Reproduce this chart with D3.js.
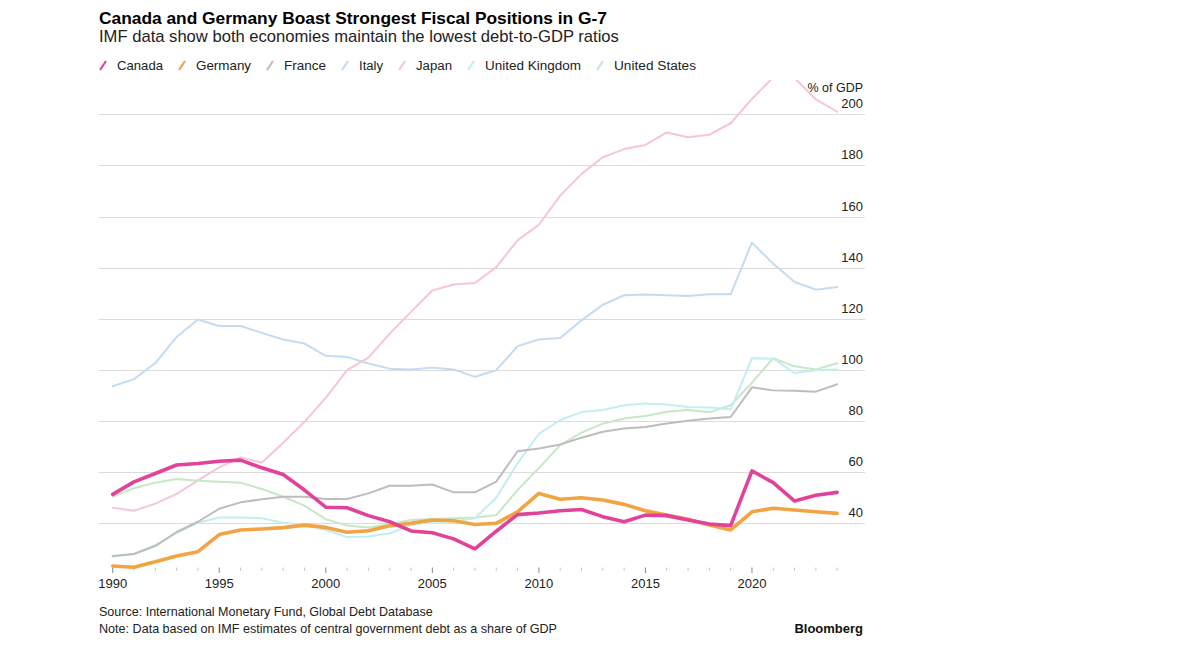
<!DOCTYPE html>
<html>
<head>
<meta charset="utf-8">
<script src="https://cdn.jsdelivr.net/npm/d3@7"></script>
<style>
  html, body { margin: 0; padding: 0; background: #fff; }
  svg { display: block; font-family: "Liberation Sans", Arial, Helvetica, sans-serif; }
</style>
</head>
<body>
<svg id="chart" width="1178" height="649"></svg>
<script>
// ---------- DATA ----------
const years = d3.range(1990, 2025);
const canada  = [51.3,56.2,59.5,62.8,63.4,64.3,64.7,61.7,59.1,53.0,46.3,46.1,43.0,40.6,37.0,36.3,33.9,30.0,36.9,43.4,44.0,44.9,45.4,42.6,40.6,43.2,43.0,41.3,39.7,39.1,60.5,55.9,48.7,51.0,52.1];
const germany = [23.3,22.8,25.0,27.2,28.9,35.6,37.4,37.8,38.3,39.3,38.4,36.5,37.1,39.0,40.0,41.3,41.0,39.5,40.0,44.5,51.7,49.4,50.0,49.1,47.4,44.9,43.2,41.6,39.3,37.4,44.5,45.9,45.2,44.5,43.9];
const france  = [27.2,28.0,31.1,36.6,40.6,45.7,48.2,49.4,50.4,50.4,49.5,49.5,51.7,54.7,54.7,55.2,52.1,52.1,56.3,68.2,69.3,70.8,73.5,75.8,77.1,77.7,79.0,80.1,81.0,81.6,93.2,92.0,91.9,91.5,94.4];
const italy   = [93.6,96.4,102.7,112.9,119.7,117.2,117.2,114.5,111.9,110.3,105.5,105.1,102.5,100.5,100.2,100.9,100.2,97.3,99.9,109.3,111.9,112.5,119.4,125.5,129.2,129.5,129.2,128.9,129.6,129.6,149.8,141.5,134.4,131.4,132.4];
const japan   = [46.1,44.9,47.7,51.5,56.8,61.9,65.8,63.7,71.5,79.7,89.1,99.9,104.8,114.2,122.7,131.1,133.4,134.0,140.2,150.7,156.8,168.2,176.7,183.2,186.4,188.0,192.9,191.0,192.0,196.5,206.0,214.5,214.2,205.8,201.0];
const uk      = [27.0,28.0,31.5,36.2,40.2,42.3,42.3,42.0,40.2,39.3,37.4,34.6,34.8,36.1,39.3,40.6,40.8,42.0,50.0,63.5,75.0,80.4,83.5,84.3,86.2,86.9,86.5,85.5,85.3,84.6,104.6,104.4,98.8,99.9,100.2];
const us      = [50.4,53.7,55.9,57.3,56.6,56.3,55.9,53.4,50.4,46.9,41.6,39.1,38.4,39.6,41.3,41.7,42.0,42.3,43.2,53.0,61.6,70.6,75.5,79.0,81.0,82.0,83.6,84.3,83.4,86.2,95.0,104.6,101.4,100.2,102.6];

const seriesNames = ["Canada","Germany","France","Italy","Japan","United Kingdom","United States"];
const seriesValues = [canada, germany, france, italy, japan, uk, us];
const yTicks = [40,60,80,100,120,140,160,180,200];
const xTickLabels = [1990,1995,2000,2005,2010,2015,2020];

const title = "Canada and Germany Boast Strongest Fiscal Positions in G-7";
const subtitle = "IMF data show both economies maintain the lowest debt-to-GDP ratios";
const sourceText = "Source: International Monetary Fund, Global Debt Database";
const noteText = "Note: Data based on IMF estimates of central government debt as a share of GDP";

// ---------- STYLE ----------
const colors = {
  "Canada": "#e2439a",
  "Germany": "#f2a443",
  "France": "#bdbdbd",
  "Italy": "#c3dcf1",
  "Japan": "#f6c5d8",
  "United Kingdom": "#c2eef3",
  "United States": "#c7e7c6"
};
const widths = { "Canada": 3.6, "Germany": 3.6 };
const drawOrder = ["Japan","Italy","United States","United Kingdom","France","Germany","Canada"];

const svg = d3.select("#chart");

function fit(sel, targetWidth) {
  const node = sel.node();
  const w = node.getComputedTextLength();
  const fs = parseFloat(sel.attr("font-size"));
  sel.attr("font-size", (fs * targetWidth / w).toFixed(2));
}

// Titles
svg.append("text").attr("x", 99).attr("y", 24).attr("font-size", 17).attr("font-weight", "bold")
  .attr("fill", "#000").text(title).call(s => fit(s, 508));
svg.append("text").attr("x", 99).attr("y", 42).attr("font-size", 16)
  .attr("fill", "#222").text(subtitle).call(s => fit(s, 520));

// Legend
const legendTextWidths = [46, 55, 42, 24, 36, 96, 82];
let lx = 100;
seriesNames.forEach((name, i) => {
  const g = svg.append("g");
  g.append("line").attr("x1", lx).attr("y1", 70).attr("x2", lx + 6).attr("y2", 61)
    .attr("stroke", colors[name]).attr("stroke-width", 2.2);
  const t = g.append("text").attr("x", lx + 17).attr("y", 70).attr("font-size", 13.6)
    .attr("fill", "#222").text(name);
  fit(t, legendTextWidths[i]);
  lx += 17 + legendTextWidths[i] + 16;
});

// Scales
const x = d3.scaleLinear().domain([1990, 2024]).range([112.7, 837.2]);
const y = d3.scaleLinear().domain([40, 200]).range([523.3, 114.3]);

// Grid
const grid = svg.append("g");
grid.selectAll("line").data(yTicks).join("line")
  .attr("x1", 99).attr("x2", 865)
  .attr("y1", d => Math.round(y(d)) + 0.5).attr("y2", d => Math.round(y(d)) + 0.5)
  .attr("stroke", "#dcdcdc").attr("stroke-width", 1);
grid.selectAll("text").data(yTicks).join("text")
  .attr("x", 863).attr("y", d => y(d) - 6).attr("text-anchor", "end")
  .attr("font-size", 13).attr("fill", "#222").text(d => d);
svg.append("text").attr("x", 863).attr("y", 92).attr("text-anchor", "end")
  .attr("font-size", 12.5).attr("fill", "#222").text("% of GDP");

// X axis ticks
const xa = svg.append("g");
xa.selectAll("line").data(years).join("line")
  .attr("x1", d => x(d)).attr("x2", d => x(d))
  .attr("y1", 567.5).attr("y2", d => d % 5 === 0 ? 573 : 571)
  .attr("stroke", d => d % 5 === 0 ? "#888" : "#c8c8c8").attr("stroke-width", 1);
xa.selectAll("text").data(xTickLabels).join("text")
  .attr("x", d => x(d)).attr("y", 588).attr("text-anchor", "middle")
  .attr("font-size", 13).attr("fill", "#222").text(d => d);

// Clip
svg.append("clipPath").attr("id", "plotclip").append("rect")
  .attr("x", 95).attr("y", 80).attr("width", 780).attr("height", 495);

const line = d3.line().x((d, i) => x(years[i])).y(d => y(d));
const plot = svg.append("g").attr("clip-path", "url(#plotclip)");
drawOrder.forEach(name => {
  const vals = seriesValues[seriesNames.indexOf(name)];
  plot.append("path").datum(vals).attr("d", line)
    .attr("fill", "none").attr("stroke", colors[name])
    .attr("stroke-width", widths[name] || 2)
    .attr("stroke-linejoin", "round").attr("stroke-linecap", "round");
});

// Footer
svg.append("text").attr("x", 99).attr("y", 616).attr("font-size", 12.5).attr("fill", "#222")
  .text(sourceText).call(s => fit(s, 334));
svg.append("text").attr("x", 99).attr("y", 633).attr("font-size", 12.5).attr("fill", "#222")
  .text(noteText).call(s => fit(s, 458));
svg.append("text").attr("x", 863).attr("y", 633).attr("text-anchor", "end").attr("font-size", 13)
  .attr("font-weight", "bold").attr("fill", "#111").text("Bloomberg");
</script>
</body>
</html>
